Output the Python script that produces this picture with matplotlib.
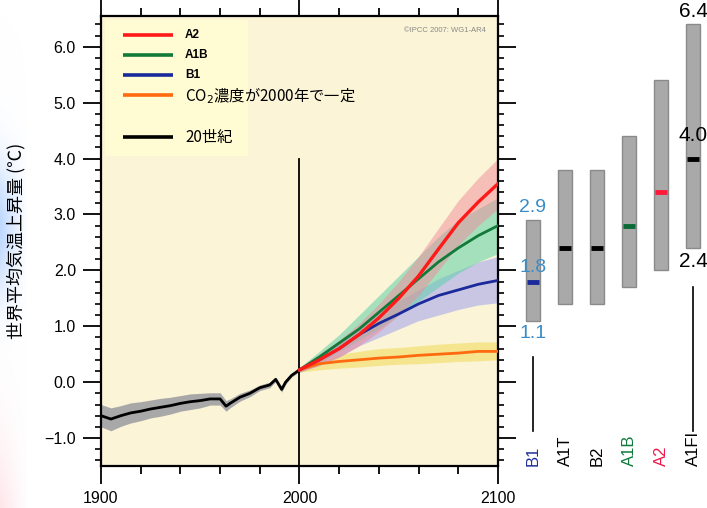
import numpy as np
import matplotlib
matplotlib.use('Agg')
import matplotlib.pyplot as plt
from matplotlib.patches import Rectangle

plt.rcParams['font.family'] = ['Liberation Sans', 'Noto Sans CJK JP', 'DejaVu Sans']

# 20th century observed/simulated mean
hist_years = [1900, 1905, 1910, 1915, 1920, 1925, 1930, 1935, 1940, 1945, 1950, 1955,
              1960, 1963, 1965, 1970, 1975, 1980, 1985, 1988, 1991, 1993, 1996, 2000]
hist_mean = [-0.60, -0.66, -0.60, -0.55, -0.52, -0.48, -0.45, -0.42, -0.38, -0.35, -0.33, -0.30,
             -0.30, -0.43, -0.38, -0.27, -0.20, -0.10, -0.05, 0.05, -0.13, 0.00, 0.12, 0.22]
hist_hi = [-0.40, -0.46, -0.42, -0.37, -0.35, -0.32, -0.29, -0.27, -0.24, -0.21, -0.20, -0.19,
           -0.19, -0.33, -0.30, -0.20, -0.14, -0.05, 0.00, 0.09, -0.08, 0.04, 0.15, 0.25]
hist_lo = [-0.80, -0.87, -0.79, -0.73, -0.69, -0.64, -0.61, -0.57, -0.52, -0.49, -0.46, -0.41,
           -0.41, -0.52, -0.46, -0.34, -0.26, -0.15, -0.10, 0.01, -0.18, -0.04, 0.09, 0.19]

# Projections 2000-2100
proj_years = [2000, 2010, 2020, 2030, 2040, 2050, 2060, 2070, 2080, 2090, 2100]
a2_mean = [0.22, 0.40, 0.60, 0.85, 1.15, 1.50, 1.90, 2.38, 2.85, 3.22, 3.55]
a2_hi = [0.26, 0.50, 0.75, 1.05, 1.40, 1.80, 2.25, 2.75, 3.25, 3.65, 4.00]
a2_lo = [0.18, 0.30, 0.45, 0.65, 0.90, 1.20, 1.55, 2.00, 2.45, 2.80, 3.10]
a1b_mean = [0.22, 0.45, 0.70, 0.95, 1.25, 1.55, 1.85, 2.15, 2.40, 2.62, 2.80]
a1b_hi = [0.26, 0.55, 0.85, 1.20, 1.55, 1.90, 2.25, 2.60, 2.90, 3.10, 3.30]
a1b_lo = [0.18, 0.35, 0.55, 0.75, 0.95, 1.20, 1.45, 1.70, 1.95, 2.15, 2.30]
b1_mean = [0.22, 0.40, 0.60, 0.85, 1.05, 1.22, 1.40, 1.55, 1.65, 1.75, 1.82]
b1_hi = [0.26, 0.50, 0.75, 1.00, 1.25, 1.45, 1.65, 1.85, 2.00, 2.15, 2.25]
b1_lo = [0.18, 0.30, 0.45, 0.65, 0.80, 0.95, 1.10, 1.20, 1.30, 1.38, 1.42]
co2_mean = [0.22, 0.33, 0.37, 0.40, 0.43, 0.45, 0.48, 0.50, 0.52, 0.55, 0.55]
co2_hi = [0.26, 0.45, 0.50, 0.55, 0.60, 0.62, 0.65, 0.68, 0.70, 0.72, 0.72]
co2_lo = [0.18, 0.22, 0.25, 0.27, 0.30, 0.32, 0.33, 0.35, 0.37, 0.38, 0.40]

# Likely ranges at 2090-2099 for SRES scenarios
scen_names = ['B1', 'A1T', 'B2', 'A1B', 'A2', 'A1FI']
scen_low = [1.1, 1.4, 1.4, 1.7, 2.0, 2.4]
scen_high = [2.9, 3.8, 3.8, 4.4, 5.4, 6.4]
scen_best = [1.8, 2.4, 2.4, 2.8, 3.4, 4.0]
scen_colors = ['#1f2f9a', 'black', 'black', '#0f7a3c', '#f0184a', 'black']
best_colors = ['#1a2a9a', 'black', 'black', '#0a6a35', '#ff1a3a', 'black']

W, H = 707, 508
fig = plt.figure(figsize=(W / 100, H / 100), dpi=100)
fig.patch.set_facecolor('white')

# faint slide background on the left edge
bg = fig.add_axes([0, 0, 60 / W, 1])
yy = np.linspace(0, 1, 200)[:, None]
xx = np.linspace(0, 1, 60)[None, :]
img = np.ones((200, 60, 4))
blue = np.exp(-((yy - 0.55) / 0.18) ** 2)
red = np.clip((0.35 - yy) / 0.35, 0, 1)
img[..., 0] = 1 - 0.25 * blue
img[..., 1] = 1 - 0.15 * blue - 0.12 * red
img[..., 2] = 1 - 0.10 * red
img[..., 3] = np.clip(1 - xx * 2.2, 0, 1) * np.maximum(blue, 0.8 * red)
bg.imshow(img, aspect='auto', origin='lower', extent=[0, 1, 0, 1])
bg.axis('off')

ax = fig.add_axes([101 / W, (H - 466) / H, 397 / W, 450 / H])
ax.set_facecolor('#fbf4d6')
ax.add_patch(Rectangle((0.01, 0.69), 0.36, 0.30, transform=ax.transAxes,
                       facecolor='#fffbd2', edgecolor='none', zorder=0))

ax.fill_between(hist_years, hist_lo, hist_hi, color='#a8a8a8', lw=0, zorder=2)
ax.plot(hist_years, hist_mean, color='black', lw=2, zorder=5)

ax.fill_between(proj_years, co2_lo, co2_hi, color='#f2e070', alpha=0.7, lw=0, zorder=2)
ax.fill_between(proj_years, b1_lo, b1_hi, color='#a8a8ee', alpha=0.6, lw=0, zorder=2)
ax.fill_between(proj_years, a1b_lo, a1b_hi, color='#5fd0aa', alpha=0.55, lw=0, zorder=2)
ax.fill_between(proj_years, a2_lo, a2_hi, color='#f08a9a', alpha=0.5, lw=0, zorder=2)

ax.plot(proj_years, co2_mean, color='#ff6a10', lw=2, zorder=5)
ax.plot(proj_years, b1_mean, color='#1a2a9a', lw=2, zorder=5)
ax.plot(proj_years, a1b_mean, color='#127a38', lw=2, zorder=5)
ax.plot(proj_years, a2_mean, color='#ff1a1a', lw=2.4, zorder=6)

ax.plot([2000, 2000], [-1.5, 4.0], color='black', lw=1.3, zorder=4)

ax.set_xlim(1900, 2100)
ax.set_ylim(-1.5, 6.55)
ax.set_xticks([1900, 2000, 2100])
ax.set_xticks(np.arange(1900, 2101, 20), minor=True)
ax.set_yticks([-1, 0, 1, 2, 3, 4, 5, 6])
ax.set_yticklabels(['\u22121.0', '0.0', '1.0', '2.0', '3.0', '4.0', '5.0', '6.0'])
ax.set_yticks(np.arange(-1.4, 6.5, 0.2), minor=True)
ax.tick_params(which='both', direction='out', top=True, right=True, width=1.3,
               labelsize=11.5, pad=5)
ax.tick_params(which='major', length=13)
ax.tick_params(which='minor', length=6)
ax.tick_params(axis='y', which='minor', length=4, width=1.2)
for s in ax.spines.values():
    s.set_linewidth(1.6)

ax.set_ylabel('世界平均気温上昇量 (℃)', fontsize=13,
              family=['Noto Sans CJK JP', 'DejaVu Sans'])
ax.yaxis.set_label_coords(-0.19, 0.50)

ax.text(0.97, 0.975, '©IPCC 2007: WG1-AR4', transform=ax.transAxes, ha='right',
        va='top', fontsize=5.5, color='#888888')

# legend
leg_labels = ['A2', 'A1B', 'B1', 'CO$_2$濃度が2000年で一定', '20世紀']
leg_colors = ['#ff1a1a', '#127a38', '#1a2a9a', '#ff6a10', 'black']
leg_rows = [0.958, 0.913, 0.869, 0.824, 0.731]
for lab, col, yr in zip(leg_labels, leg_colors, leg_rows):
    ax.plot([0.055, 0.181], [yr, yr], color=col, lw=2.6, transform=ax.transAxes,
            solid_capstyle='butt', zorder=7)
    big = len(lab) > 3
    ax.text(0.212, yr, lab, transform=ax.transAxes, va='center', ha='left',
            fontsize=11 if big else 8.5, fontweight='normal' if big else 'bold',
            family=['Noto Sans CJK JP', 'DejaVu Sans'] if big else ['Liberation Sans'],
            zorder=7)

# right panel with scenario ranges
bx = fig.add_axes([515 / W, (H - 466) / H, 192 / W, 450 / H])
bx.set_xlim(-0.5625, 5.4375)
bx.set_ylim(-1.5, 6.55)
bx.axis('off')
pos = np.arange(len(scen_names))
bx.bar(pos, np.array(scen_high) - np.array(scen_low), bottom=scen_low, width=0.42,
       color='#a9a9a9', edgecolor='#8a8a8a', lw=1)
for p, b, c in zip(pos, scen_best, best_colors):
    bx.plot([p - 0.2, p + 0.2], [b, b], color=c, lw=3.5, solid_capstyle='butt')
for p, n, c in zip(pos, scen_names, scen_colors):
    bx.text(p, -1.5, n, rotation=90, ha='center', va='bottom', fontsize=12, color=c)

num_font = ['Liberation Sans Narrow', 'Liberation Sans']
b1c = '#3a8cc8'
bx.text(pos[0], scen_high[0] + 0.08, '2.9', ha='center', va='bottom', fontsize=14,
        color=b1c, family=num_font)
bx.text(pos[0], scen_best[0] + 0.1, '1.8', ha='center', va='bottom', fontsize=14,
        color=b1c, family=num_font)
bx.text(pos[0], scen_low[0] - 0.08, '1.1', ha='center', va='top', fontsize=14,
        color=b1c, family=num_font)
bx.text(pos[5], scen_high[5] + 0.06, '6.4', ha='center', va='bottom', fontsize=15,
        color='black', family=num_font, clip_on=False)
bx.text(pos[5], scen_best[5] + 0.25, '4.0', ha='center', va='bottom', fontsize=15,
        color='black', family=num_font)
bx.text(pos[5], scen_low[5] - 0.08, '2.4', ha='center', va='top', fontsize=15,
        color='black', family=num_font)
bx.plot([pos[0], pos[0]], [-0.88, 0.45], color='black', lw=1.2)
bx.plot([pos[5], pos[5]], [-0.88, 1.7], color='black', lw=1.2)

fig.savefig('out.png', dpi=100)
